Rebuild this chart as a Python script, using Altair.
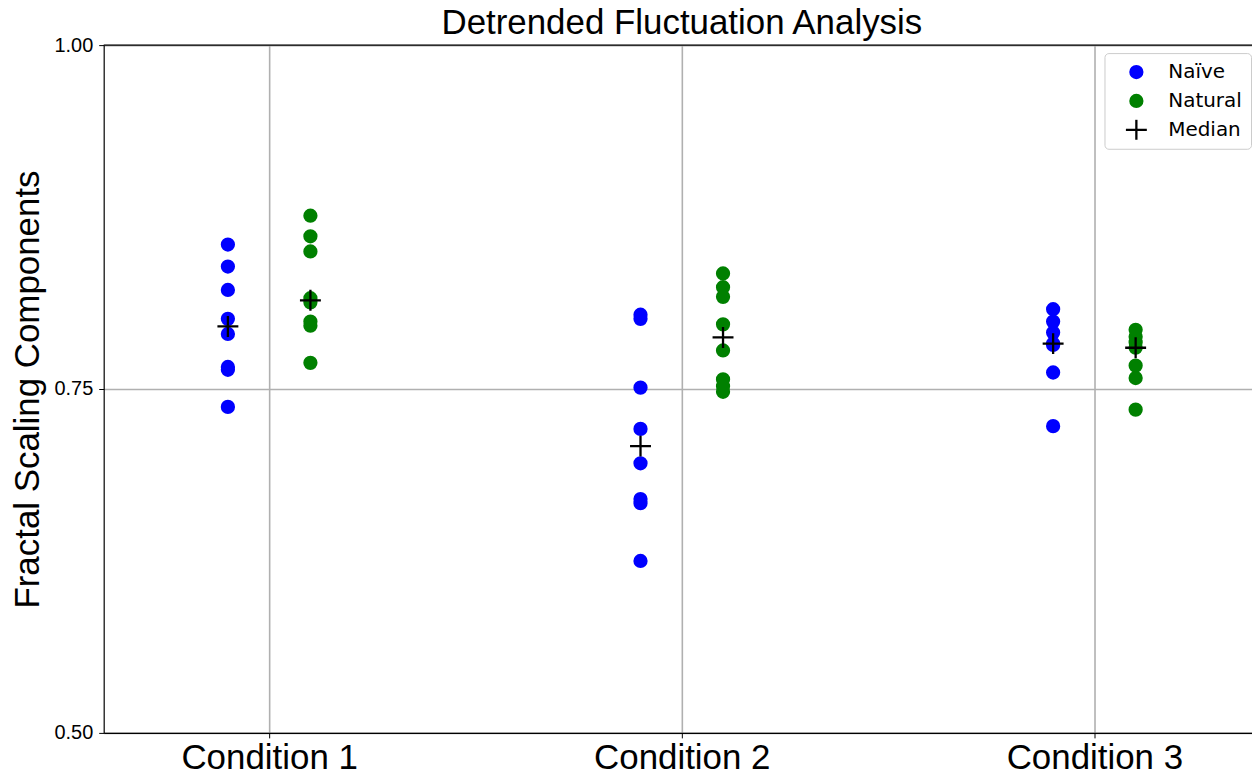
import altair as alt
import pandas as pd

conditions = ["Condition 1", "Condition 2", "Condition 3"]
groups = ["Naïve", "Natural"]
series_names = ["Naïve", "Natural", "Median"]
series_fill = ["#0000ff", "#008000", "#000000"]
series_stroke = ["#0000ff", "#008000", "#000000"]

c1_naive = [0.855, 0.839, 0.822, 0.801, 0.790, 0.766, 0.764, 0.737]
c1_natural = [0.876, 0.861, 0.850, 0.816, 0.813, 0.799, 0.796, 0.769]
c2_naive = [0.804, 0.801, 0.751, 0.721, 0.696, 0.670, 0.667, 0.625]
c2_natural = [0.834, 0.824, 0.817, 0.797, 0.778, 0.757, 0.752, 0.748]
c3_naive = [0.808, 0.799, 0.791, 0.783, 0.782, 0.762, 0.723]
c3_natural = [0.793, 0.788, 0.784, 0.780, 0.767, 0.758, 0.735]

y_ticks = [0.5, 0.75, 1.0]
group_offset = {"Naïve": -0.1, "Natural": 0.1}

values = {
    ("Condition 1", "Naïve"): c1_naive,
    ("Condition 1", "Natural"): c1_natural,
    ("Condition 2", "Naïve"): c2_naive,
    ("Condition 2", "Natural"): c2_natural,
    ("Condition 3", "Naïve"): c3_naive,
    ("Condition 3", "Natural"): c3_natural,
}

rows = []
for (cond, grp), vals in values.items():
    for v in vals:
        rows.append({"condition": cond, "group": grp, "series": grp, "value": v})
df = pd.DataFrame(rows)
med = df.groupby(["condition", "group"], as_index=False)["value"].median()
med["series"] = "Median"
df = pd.concat([df, med], ignore_index=True)
df["xpos"] = df["condition"].map({c: i + 1 for i, c in enumerate(conditions)}) + df["group"].map(group_offset)

FONT = "Liberation Sans"
plus_path = "M-1.75,0H1.75M0,-1.75V1.75"
label_expr = "[" + ",".join("'" + c + "'" for c in conditions) + "][datum.value - 1]"

points = alt.Chart(df).mark_point(filled=True, size=144, strokeWidth=2.3, opacity=1).encode(
    x=alt.X("xpos:Q", title=None,
            scale=alt.Scale(domain=[0.599, 3.382], nice=False, zero=False),
            axis=alt.Axis(values=[1, 2, 3], labelExpr=label_expr, labelFontSize=35,
                          labelFont=FONT, labelColor="black", labelPadding=3,
                          tickSize=5, tickColor="black", domainColor="black",
                          domainWidth=1.2, grid=True, gridColor="#b0b0b0", gridWidth=1.6)),
    y=alt.Y("value:Q", title="Fractal Scaling Components",
            scale=alt.Scale(domain=[0.5, 1.0], nice=False, zero=False),
            axis=alt.Axis(values=y_ticks, format=".2f", labelFontSize=20, labelFont=FONT,
                          labelColor="black", labelPadding=6, tickSize=5, tickColor="black",
                          domainColor="black", domainWidth=1.2, grid=True,
                          gridColor="#b0b0b0", gridWidth=1.6,
                          titleFontSize=35, titleFont=FONT, titleFontWeight="normal",
                          titleColor="black", titlePadding=8)),
    fill=alt.Fill("series:N", scale=alt.Scale(domain=series_names, range=series_fill), title=None),
    stroke=alt.Stroke("series:N", scale=alt.Scale(domain=series_names, range=series_stroke), title=None),
    shape=alt.Shape("series:N", scale=alt.Scale(domain=series_names, range=["circle", "circle", plus_path]), title=None),
)

top_rule = alt.Chart(pd.DataFrame({"v": [1.0]})).mark_rule(color="black", strokeWidth=1.2).encode(
    y=alt.Y("v:Q")
)

chart = alt.layer(points, top_rule).properties(
    width=1152,
    height=690,
    title=alt.TitleParams("Detrended Fluctuation Analysis", fontSize=35, font=FONT,
                          fontWeight="normal", color="black", anchor="middle",
                          offset=10, dx=4, dy=16),
    autosize=alt.AutoSizeParams(type="none"),
    padding={"left": 96, "top": 36, "right": 0, "bottom": 40},
).configure_view(stroke=None).configure_legend(
    orient="none", legendX=1004, legendY=8,
    strokeColor="#cccccc", fillColor="rgba(255,255,255,0.8)", cornerRadius=4,
    padding=9, symbolOffset=13, labelFont="DejaVu Sans", labelFontSize=20,
    labelColor="black", rowPadding=9, clipHeight=20, symbolSize=144,
    symbolStrokeWidth=2.3, labelOffset=22,
)

chart.save("out.html", embed_options={"renderer": "svg", "actions": False})
